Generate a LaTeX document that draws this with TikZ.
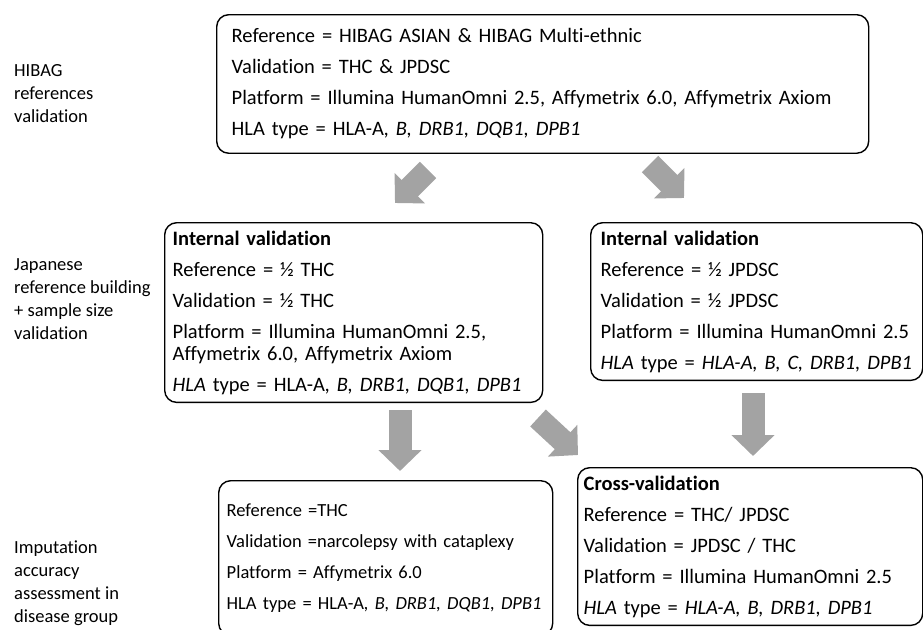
\documentclass[tikz,border=0pt]{standalone}
\usepackage{fontspec}
\setmainfont{Carlito}[Ligatures=NoCommon]
\usepackage{tikz}
\usetikzlibrary{arrows.meta}

\begin{document}
\begin{tikzpicture}[x=1pt,y=-1pt,
 box/.style={draw,line width=1.4pt,rounded corners=12pt,align=left,anchor=north west,
  inner ysep=8pt,font=\fontsize{20.5}{31}\selectfont},
 side/.style={align=left,anchor=north west,inner sep=0pt,font=\fontsize{18.5}{23}\selectfont},
 fat/.style={draw=black!36,line width=23pt,-{Triangle[length=21pt,width=42pt]}}]
 \useasboundingbox (0,0) rectangle (923,629);
 \clip (0,0) rectangle (923,629);

 \node[side] (lhibag) at (14,64) {HIBAG\\references\\validation};
 \node[side] (ljapan) at (14,258) {Japanese\\reference building\\+ sample size\\validation};
 \node[side] (limput) at (14,541) {Imputation\\accuracy\\assessment in\\disease group};

 \node[box,text width=622pt,inner xsep=15pt,inner ysep=14pt] (hibag) at (216,14)
  {Reference = HIBAG ASIAN \& HIBAG Multi-ethnic\\
   Validation = THC \& JPDSC\\
   Platform = Illumina HumanOmni 2.5, Affymetrix 6.0, Affymetrix Axiom\\
   HLA type = HLA-A\textit{, B, DRB1, DQB1, DPB1}};
 \node[box,text width=362pt,inner xsep=8pt] (intthc) at (164,222)
  {\textbf{Internal validation}\\
   Reference = ½ THC\\
   Validation = ½ THC\\
   Platform = Illumina HumanOmni 2.5,\\[-9pt]
   Affymetrix 6.0, Affymetrix Axiom\\
   \textit{HLA} type = HLA-A\textit{, B, DRB1, DQB1, DPB1}};
 \node[box,text width=312pt,inner xsep=10pt] (intjp) at (590,222)
  {\textbf{Internal validation}\\
   Reference = ½ JPDSC\\
   Validation = ½ JPDSC\\
   Platform = Illumina HumanOmni 2.5\\
   \textit{HLA} type = \textit{HLA-A, B, C, DRB1, DPB1}};
 \node[box,text width=318pt,inner xsep=8pt,inner ysep=23pt,
  font=\fontsize{18.5}{31}\selectfont] (disease) at (218,480)
  {Reference =THC\\
   Validation =narcolepsy with cataplexy\\
   Platform = Affymetrix 6.0\\
   HLA type = HLA-A\textit{, B, DRB1, DQB1, DPB1}};
 \node[box,text width=333pt,inner xsep=6pt] (cross) at (577,467)
  {\textbf{Cross-validation}\\
   Reference = THC/ JPDSC\\
   Validation = JPDSC / THC\\
   Platform = Illumina HumanOmni 2.5\\
   \textit{HLA} type = \textit{HLA-A, B, DRB1, DPB1}};

 % block arrows
 \coordinate (t1) at (428,170); \coordinate (h1) at (395,203);
 \coordinate (t2) at (650,164); \coordinate (h2) at (684,198);
 \coordinate (t3) at (538,418); \coordinate (h3) at (578,455);
 \coordinate (t4) at (400,410); \coordinate (h4) at (400,471);
 \coordinate (t5) at (753,393); \coordinate (h5) at (753,456);
 \foreach \a in {1,...,5}
  \draw[fat] (t\a) -- (h\a);
\end{tikzpicture}
\end{document}
